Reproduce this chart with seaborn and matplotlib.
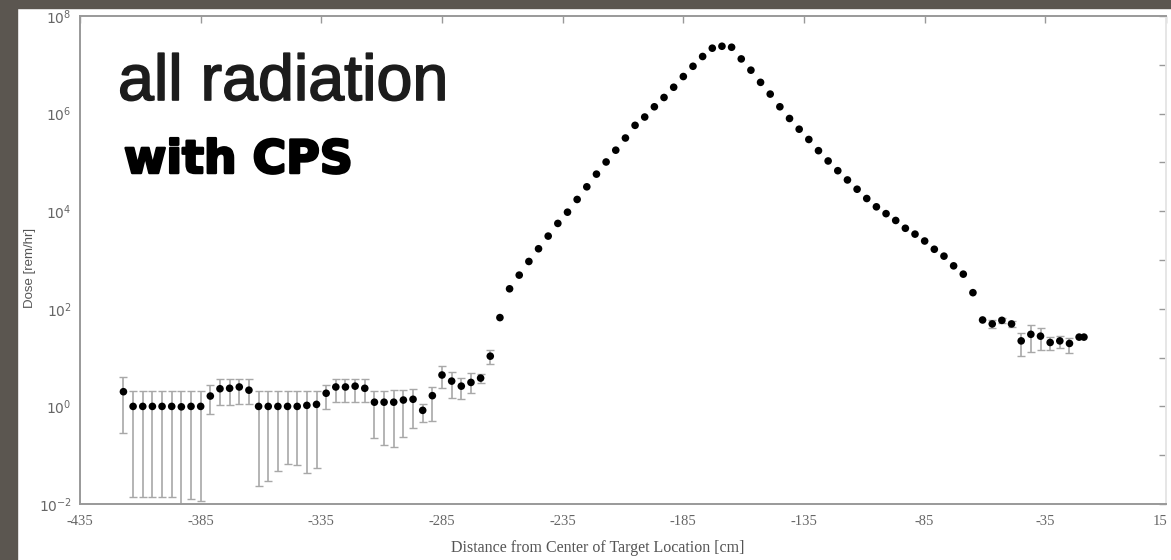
"""
Dose profile along the beam line (all radiation, with CPS), log scale.
"""

import matplotlib
matplotlib.use("Agg")
import matplotlib.pyplot as plt
import matplotlib.patheffects as pe
import matplotlib.transforms as mtransforms
from matplotlib.patches import Rectangle
from matplotlib.ticker import FixedLocator, FuncFormatter, NullLocator
import numpy as np
import pandas as pd
import seaborn as sns

# Set style
sns.set_theme(style="white")
plt.rcParams["font.family"] = ["Liberation Sans", "DejaVu Sans"]

# bin centres every 4 cm, plus the last overlapping point
distance = list(np.arange(-417, -20, 4)) + [-19]

dose = [
    2.0, 1.0, 1.0, 1.0, 1.0, 1.0, 0.98, 1.0, 1.0, 1.63,
    2.3, 2.35, 2.5, 2.15, 1.0, 1.0, 1.0, 1.0, 1.0, 1.05,
    1.1, 1.86, 2.5, 2.5, 2.6, 2.35, 1.22, 1.22, 1.22, 1.35,
    1.4, 0.83, 1.66, 4.4, 3.3, 2.6, 3.1, 3.8, 10.7, 66,
    257, 490, 933, 1700, 3090, 5620, 9550, 1.74e4, 3.16e4, 5.75e4,
    1.02e5, 1.78e5, 3.16e5, 5.75e5, 8.51e5, 1.38e6, 2.14e6, 3.47e6, 5.75e6, 9.33e6,
    1.48e7, 2.19e7, 2.40e7, 2.29e7, 1.32e7, 7.76e6, 4.37e6, 2.51e6, 1.38e6, 7.94e5,
    4.79e5, 2.95e5, 1.74e5, 1.07e5, 6.76e4, 4.37e4, 2.82e4, 1.82e4, 1.23e4, 8910,
    6460, 4470, 3390, 2450, 1660, 1200, 759, 513, 214, 59,
    49, 58, 49, 22, 30, 27.5, 20.4, 22, 19.5, 26.3, 26.3,
]

nan = np.nan
# lower / upper ends of the error bars (nan = no visible bar)
dose_lo = [
    0.28, 0.014, 0.014, 0.014, 0.014, 0.014, 0.005, 0.0126, 0.0115, 0.70,
    1.07, 1.07, 1.1, 1.1, 0.023, 0.029, 0.048, 0.065, 0.062, 0.044,
    0.054, 0.87, 1.25, 1.25, 1.25, 1.25, 0.22, 0.16, 0.145, 0.24,
    0.36, 0.47, 0.51, 2.35, 1.5, 1.4, 1.9, 3.0, 7.5, nan,
] + [nan] * 50 + [40, 50, 42, 10.7, 13, 14, 14.5, 15.5, 12.3, nan, nan]

dose_hi = [
    4.0, 2.1, 2.1, 2.1, 2.1, 2.1, 2.1, 2.1, 2.1, 2.75,
    3.6, 3.6, 3.6, 3.6, 2.1, 2.1, 2.1, 2.1, 2.1, 2.1,
    2.1, 2.8, 3.6, 3.6, 3.6, 3.6, 2.1, 2.1, 2.2, 2.2,
    2.25, 1.1, 2.5, 6.7, 5.1, 3.8, 4.8, 4.7, 14, nan,
] + [nan] * 50 + [60, 66, 57, 32, 47, 40, 26, 28, 25, nan, nan]

x_ticks = [-435, -385, -335, -285, -235, -185, -135, -85, -35, 15]
x_tick_labels = ["-435", "-385", "-335", "-285", "-235", "-185", "-135", "-85", "-35", "15"]

df = pd.DataFrame({"distance": distance, "dose": dose, "lo": dose_lo, "hi": dose_hi})

W, H = 1171, 560
fig = plt.figure(figsize=(W / 100, H / 100), dpi=100, facecolor="white")
ax = fig.add_axes([80 / W, 1 - 504 / H, (1166 - 80) / W, (504 - 16) / H])

# photo frame
fig.patches.append(Rectangle((0, 0), 17 / W, 1, transform=fig.transFigure,
                             color="#5b5650", zorder=0))
fig.patches.append(Rectangle((0, 1 - 8 / H), 1, 8 / H, transform=fig.transFigure,
                             color="#5b5650", zorder=0))

# error bars
eb = df.dropna(subset=["lo", "hi"])
ax.errorbar(
    eb["distance"], eb["dose"],
    yerr=[eb["dose"] - eb["lo"], eb["hi"] - eb["dose"]],
    fmt="none", ecolor="#a8a8a8", elinewidth=1.2, capsize=3, capthick=1.0, zorder=2,
)

sns.scatterplot(data=df, x="distance", y="dose", ax=ax, s=30, color="black",
                edgecolor="none", zorder=3, legend=False)

ax.set_yscale("log")
ax.set_xlim(-435, 15)
ax.set_ylim(1e-2, 1e8)

ax.xaxis.set_major_locator(FixedLocator(x_ticks))
ax.set_xticklabels(x_tick_labels)
decades = [10.0 ** e for e in range(-2, 9)]
ax.yaxis.set_major_locator(FixedLocator(decades))
ax.yaxis.set_minor_locator(NullLocator())
ax.yaxis.set_major_formatter(FuncFormatter(
    lambda v, p: rf"$10^{{{int(round(np.log10(v)))}}}$" if round(np.log10(v)) % 2 == 0 else ""
))

ax.tick_params(axis="both", which="major", direction="in", length=5, width=1,
               color="#999999", top=True, right=True, labelcolor="#666666")
ax.tick_params(axis="y", labelsize=10, pad=6)
ax.tick_params(axis="x", labelsize=10.5, pad=8)
for lbl in ax.get_xticklabels():
    lbl.set_fontfamily(["Liberation Serif"])
# keep the last label ("15") inside the picture
last = ax.get_xticklabels()[-1]
last.set_transform(last.get_transform()
                   + mtransforms.ScaledTranslation(-6 / 100, 0, fig.dpi_scale_trans))

for side, spine in ax.spines.items():
    spine.set_color("#999999")
    spine.set_linewidth(1.4)
ax.spines["right"].set_color("#e6e6e6")

ax.set_xlabel("")
ax.set_ylabel("")
fig.text(598 / W, 1 - 548 / H, "Distance from Center of Target Location [cm]",
         ha="center", va="center", fontsize=11.5, color="#555555",
         family=["Liberation Serif"])
fig.text(30 / W, 1 - 268 / H, "Dose [rem/hr]", rotation=90, ha="center", va="center",
         fontsize=9.5, color="#555555")

# overlay captions
fig.text(118 / W, 1 - 100 / H, "all radiation", ha="left", va="baseline",
         fontsize=46.5, color="#1c1c1c",
         path_effects=[pe.withStroke(linewidth=1.2, foreground="#1c1c1c")])
fig.text(124 / W, 1 - 173 / H, "with CPS", ha="left", va="baseline",
         fontsize=33, fontweight="bold", color="black", family=["DejaVu Sans"],
         path_effects=[pe.withStroke(linewidth=1.8, foreground="black")])

fig.savefig("out.png", dpi=100, facecolor="white")
plt.close(fig)
